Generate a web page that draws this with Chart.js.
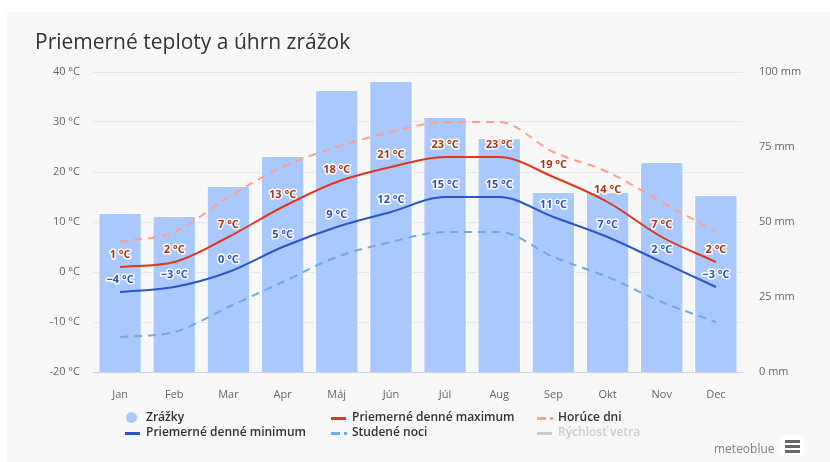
<!DOCTYPE html>
<html>
<head>
<meta charset="utf-8">
<script src="https://cdn.jsdelivr.net/npm/chart.js@4.4.1/dist/chart.umd.min.js"></script>
<style>
  html, body { margin: 0; padding: 0; background: #fff; }
  body { width: 830px; height: 462px; position: relative; overflow: hidden; font-family: "Open Sans", sans-serif; }
  #card { position: absolute; left: 7px; top: 12px; width: 823px; height: 450px; background: #f7f7f7; }
  #wrap { position: absolute; left: 0; top: 0; width: 830px; height: 462px; }
  .leg { position: absolute; font-size: 12px; font-weight: 600; color: #333; line-height: 14px; white-space: nowrap; }
  .mk { position: absolute; }
  #brand { position: absolute; left: 714px; top: 440px; font-size: 12px; color: #808080; }
  #menu { position: absolute; left: 780px; top: 435px; width: 24px; height: 20px; background: #fff; border-radius: 2px; }
  #menu i { position: absolute; left: 5px; width: 15px; height: 3px; background: #666; }
</style>
</head>
<body>
<div id="card"></div>
<div id="wrap"><canvas id="graf" width="830" height="462"></canvas></div>
<div id="legend"></div>
<div id="brand">meteoblue</div>
<div id="menu"><i style="top:5px"></i><i style="top:10px"></i><i style="top:15px"></i></div>
<script>
const months = ["Jan", "Feb", "Mar", "Apr", "Máj", "Jún", "Júl", "Aug", "Sep", "Okt", "Nov", "Dec"];
const precipitation = [53, 52, 62, 72, 94, 97, 85, 78, 60, 60, 70, 59];
const maxTemp = [1, 2, 7, 13, 18, 21, 23, 23, 19, 14, 7, 2];
const minTemp = [-4, -3, 0, 5, 9, 12, 15, 15, 11, 7, 2, -3];
const hotDays = [6, 8, 15, 21, 25, 28, 30, 30, 24, 20, 14, 8];
const coldNights = [-13, -12, -7, -2, 3, 6, 8, 8, 3, -1, -6, -10];
const tempTicks = [-20, -10, 0, 10, 20, 30, 40];
const rainTicks = [0, 25, 50, 75, 100];

const fontFam = '"Open Sans", sans-serif';
const fmtTemp = (v) => (v < 0 ? "\u2212" + Math.abs(v) : v) + " °C";

// popisky nad bodmi (max / min)
const pointLabels = {
  id: "pointLabels",
  afterDatasetsDraw(chart) {
    const ctx = chart.ctx;
    chart.data.datasets.forEach((ds, i) => {
      if (!ds.labelColor) return;
      const meta = chart.getDatasetMeta(i);
      ctx.save();
      ctx.font = "bold 11px " + fontFam;
      ctx.textAlign = "center";
      ctx.textBaseline = "middle";
      ctx.lineJoin = "round";
      ctx.lineWidth = 3;
      ctx.strokeStyle = "#fff";
      ctx.fillStyle = ds.labelColor;
      meta.data.forEach((pt, j) => {
        const txt = fmtTemp(ds.data[j]);
        ctx.strokeText(txt, pt.x, pt.y - 12);
        ctx.fillText(txt, pt.x, pt.y - 12);
      });
      ctx.restore();
    });
  },
};

const graf = new Chart(document.getElementById("graf"), {
  type: "bar",
  data: {
    labels: months,
    datasets: [
      {
        label: "Priemerné denné maximum",
        type: "line",
        data: maxTemp,
        yAxisID: "yT",
        borderColor: "#e2361a",
        borderWidth: 2,
        pointRadius: 0,
        cubicInterpolationMode: "monotone",
        labelColor: "#a83512",
        order: 1,
      },
      {
        label: "Priemerné denné minimum",
        type: "line",
        data: minTemp,
        yAxisID: "yT",
        borderColor: "#2b55c9",
        borderWidth: 2,
        pointRadius: 0,
        cubicInterpolationMode: "monotone",
        labelColor: "#2d50c0",
        order: 2,
      },
      {
        label: "Horúce dni",
        type: "line",
        data: hotDays,
        yAxisID: "yT",
        borderColor: "#ff9f8c",
        borderWidth: 2,
        borderDash: [8, 6],
        pointRadius: 0,
        cubicInterpolationMode: "monotone",
        order: 3,
      },
      {
        label: "Studené noci",
        type: "line",
        data: coldNights,
        yAxisID: "yT",
        borderColor: "#6fa9e8",
        borderWidth: 2,
        borderDash: [8, 6],
        pointRadius: 0,
        cubicInterpolationMode: "monotone",
        order: 4,
      },
      {
        label: "Zrážky",
        data: precipitation,
        yAxisID: "yR",
        backgroundColor: "#a9c8fd",
        borderColor: "#ffffff",
        borderWidth: 1,
        barPercentage: 0.8,
        categoryPercentage: 1,
        order: 10,
      },
    ],
  },
  options: {
    responsive: false,
    animation: false,
    layout: { padding: { left: 35, right: 0, top: 0, bottom: 60 } },
    plugins: {
      legend: { display: false },
      tooltip: { enabled: false },
      title: {
        display: true,
        text: "Priemerné teploty a úhrn zrážok",
        align: "start",
        color: "#333",
        font: { family: fontFam, size: 21, weight: "normal" },
        padding: { top: 30, bottom: 16.8 },
      },
    },
    scales: {
      x: {
        grid: { display: false },
        border: { display: true, color: "#ccd6eb", width: 1 },
        ticks: { color: "#666", font: { family: fontFam, size: 11 }, padding: 8 },
        afterFit: (axis) => { axis.height = 30; },
      },
      yT: {
        position: "left",
        min: -20,
        max: 40,
        afterBuildTicks: (axis) => { axis.ticks = tempTicks.map((v) => ({ value: v })); },
        grid: { color: "#e6e6e6", drawTicks: false },
        border: { display: false },
        ticks: {
          color: "#666",
          font: { family: fontFam, size: 11 },
          padding: 13,
          callback: (v) => v + " °C",
        },
        afterFit: (axis) => { axis.width = 58; },
      },
      yR: {
        position: "right",
        min: 0,
        max: 100,
        afterBuildTicks: (axis) => { axis.ticks = rainTicks.map((v) => ({ value: v })); },
        grid: { display: false, drawTicks: false },
        border: { display: false },
        ticks: {
          color: "#666",
          font: { family: fontFam, size: 11 },
          padding: 16,
          callback: (v) => v + " mm",
        },
        afterFit: (axis) => { axis.width = 87; },
      },
    },
  },
  plugins: [pointLabels],
});

// legenda v troch stĺpcoch
const legendItems = [
  { text: "Zrážky", col: 0, row: 0, mark: "dot", color: "#a9c8fd" },
  { text: "Priemerné denné maximum", col: 1, row: 0, mark: "line", color: "#e2361a" },
  { text: "Horúce dni", col: 2, row: 0, mark: "dash", color: "#ff9f8c" },
  { text: "Priemerné denné minimum", col: 0, row: 1, mark: "line", color: "#2b55c9" },
  { text: "Studené noci", col: 1, row: 1, mark: "dash", color: "#6fa9e8" },
  { text: "Rýchlosť vetra", col: 2, row: 1, mark: "line", color: "#cccccc", hidden: true },
];
const legendEl = document.getElementById("legend");
legendItems.forEach((it) => {
  const x0 = 125 + it.col * 206;
  const yc = 418 + it.row * 15;
  let html = "";
  if (it.mark === "dot") {
    html += `<div class="mk" style="left:${x0 + 1}px;top:${yc - 6}px;width:11px;height:11px;border-radius:50%;background:${it.color}"></div>`;
  } else if (it.mark === "line") {
    html += `<div class="mk" style="left:${x0}px;top:${yc - 1}px;width:15px;height:3px;background:${it.color}"></div>`;
  } else {
    html += `<div class="mk" style="left:${x0}px;top:${yc - 1}px;width:9px;height:3px;background:${it.color}"></div>`;
    html += `<div class="mk" style="left:${x0 + 13}px;top:${yc - 1}px;width:3px;height:3px;background:${it.color}"></div>`;
  }
  html += `<div class="leg" style="left:${x0 + 21}px;top:${yc - 8}px;color:${it.hidden ? "#cccccc" : "#333"}">${it.text}</div>`;
  legendEl.insertAdjacentHTML("beforeend", html);
});
</script>
</body>
</html>
